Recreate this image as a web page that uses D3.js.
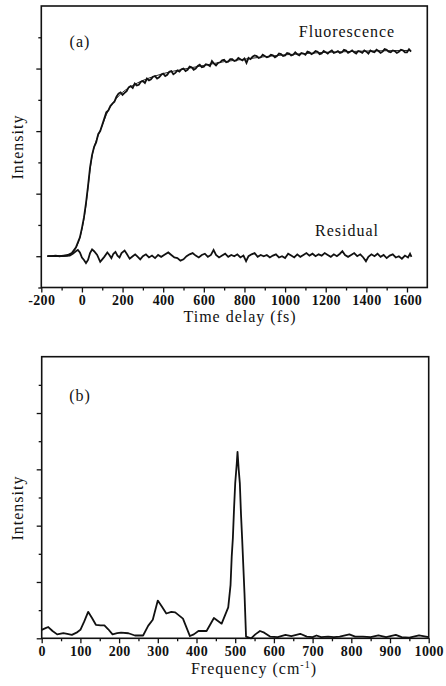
<!DOCTYPE html>
<html>

<head>
    <meta charset="utf-8">
    <title>Fluorescence and frequency spectrum</title>
    <script src="https://cdnjs.cloudflare.com/ajax/libs/d3/7.6.1/d3.min.js"></script>
</head>

<body>
    <style>
        html,
        body {
            margin: 0;
            padding: 0;
            background-color: #ffffff;
        }

        svg text {
            font-family: 'Liberation Serif', 'DejaVu Serif', serif;
            fill: #111;
        }

        .tick text {
            font-size: 14px;
            font-weight: bold;
            letter-spacing: 0.3px;
        }

        .axis-title {
            font-size: 16px;
            letter-spacing: 1px;
        }

        .note {
            font-size: 16px;
            letter-spacing: 1px;
        }
    </style>
    <div id="chart"></div>

    <script>

        // panel (a): fluorescence trace, [time fs, intensity]
        const fluorData = [
            [-170, 0.00], [-150, 0.00], [-130, 0.01], [-110, 0.00], [-90, 0.01], [-70, 0.02],
            [-50, 0.05], [-30, 0.14], [-10, 0.30], [0, 0.45], [10, 0.62], [20, 0.85],
            [30, 1.12], [40, 1.42], [50, 1.62], [60, 1.75], [70, 1.82], [80, 1.95],
            [90, 2.00], [100, 2.10], [110, 2.20], [120, 2.30], [130, 2.33], [140, 2.40],
            [150, 2.44], [160, 2.47], [170, 2.55], [180, 2.60], [190, 2.62], [200, 2.58],
            [210, 2.61], [220, 2.64], [230, 2.70], [240, 2.72], [250, 2.69], [260, 2.76],
            [270, 2.73], [280, 2.74], [290, 2.79], [300, 2.80], [310, 2.77], [320, 2.84],
            [330, 2.81], [340, 2.83], [350, 2.87], [360, 2.88], [370, 2.84], [380, 2.86],
            [390, 2.90], [400, 2.92], [410, 2.88], [420, 2.90], [430, 2.95], [440, 2.96],
            [450, 2.91], [460, 2.93], [470, 2.97], [480, 2.95], [490, 2.99], [500, 3.00],
            [510, 2.96], [520, 2.98], [530, 3.03], [540, 3.02], [550, 2.98], [560, 3.00],
            [570, 3.04], [580, 3.06], [590, 3.02], [600, 3.03], [610, 3.07], [620, 3.06],
            [630, 3.04], [640, 3.12], [650, 3.08], [660, 3.05], [670, 3.09], [680, 3.10],
            [690, 3.13], [700, 3.14], [710, 3.10], [720, 3.11], [730, 3.15], [740, 3.15],
            [750, 3.12], [760, 3.13], [770, 3.17], [780, 3.15], [790, 3.13], [800, 3.16],
            [810, 3.09], [820, 3.17], [830, 3.15], [840, 3.19], [850, 3.21], [860, 3.20],
            [870, 3.17], [880, 3.18], [890, 3.22], [900, 3.20], [910, 3.18], [920, 3.19],
            [930, 3.22], [940, 3.21], [950, 3.18], [960, 3.20], [970, 3.24], [980, 3.23],
            [990, 3.20], [1000, 3.21], [1010, 3.25], [1020, 3.24], [1030, 3.21], [1040, 3.22],
            [1050, 3.26], [1060, 3.23], [1070, 3.21], [1080, 3.25], [1090, 3.24], [1100, 3.22],
            [1110, 3.27], [1120, 3.26], [1130, 3.23], [1140, 3.25], [1150, 3.28], [1160, 3.27],
            [1170, 3.23], [1180, 3.24], [1190, 3.28], [1200, 3.26], [1210, 3.24], [1220, 3.27],
            [1230, 3.29], [1240, 3.25], [1250, 3.26], [1260, 3.28], [1270, 3.25], [1280, 3.26],
            [1290, 3.30], [1300, 3.29], [1310, 3.25], [1320, 3.27], [1330, 3.29], [1340, 3.26],
            [1350, 3.24], [1360, 3.28], [1370, 3.27], [1380, 3.25], [1390, 3.29], [1400, 3.27],
            [1410, 3.24], [1420, 3.29], [1430, 3.27], [1440, 3.26], [1450, 3.30], [1460, 3.28],
            [1470, 3.25], [1480, 3.27], [1490, 3.31], [1500, 3.30], [1510, 3.27], [1520, 3.26],
            [1530, 3.29], [1540, 3.28], [1550, 3.25], [1560, 3.27], [1570, 3.30], [1580, 3.29],
            [1590, 3.26], [1600, 3.26], [1610, 3.31], [1620, 3.27]
        ];

        // panel (a): fitted curve
        const fitData = [
            [-170, 0.00], [-80, 0.00], [-60, 0.02], [-40, 0.08], [-20, 0.20], [0, 0.43],
            [10, 0.60], [20, 0.82], [30, 1.10], [40, 1.38], [50, 1.60], [60, 1.74],
            [80, 1.93], [100, 2.09], [120, 2.26], [140, 2.39], [160, 2.48], [180, 2.56],
            [200, 2.62], [250, 2.73], [300, 2.81], [350, 2.87], [400, 2.92], [500, 2.99],
            [600, 3.05], [700, 3.11], [800, 3.15], [900, 3.19], [1000, 3.22], [1100, 3.24],
            [1200, 3.26], [1300, 3.27], [1400, 3.28], [1500, 3.285], [1620, 3.29]
        ];

        // panel (a): residual, [time fs, intensity]
        const residualData = [
            [-170, 0], [-130, 0], [-100, 0], [-80, 0.005], [-60, 0.01], [-45, 0.04],
            [-30, 0.08], [-20, 0.10], [-10, 0.06], [0, -0.02], [10, -0.06], [20, -0.11],
            [30, -0.06], [40, 0.05], [50, 0.11], [60, 0.08], [75, 0.02], [90, -0.09],
            [100, -0.05], [110, -0.01], [125, 0.06], [135, 0.02], [145, -0.03], [155, 0.04],
            [165, 0.07], [175, 0.01], [185, -0.02], [195, 0.05], [210, 0.09], [222, 0.03],
            [235, -0.04], [250, 0.00], [262, 0.03], [275, -0.01], [287, -0.05], [300, 0.00],
            [315, 0.03], [330, -0.02], [345, 0.01], [360, -0.03], [375, 0.02], [390, -0.01],
            [410, 0.03], [425, 0.06], [440, 0.02], [455, -0.02], [470, -0.03], [485, -0.07],
            [500, -0.05], [515, 0.00], [530, 0.03], [545, 0.05], [560, 0.01], [575, -0.02],
            [590, 0.02], [605, 0.04], [620, -0.01], [635, 0.02], [648, 0.10], [660, 0.02],
            [675, -0.02], [690, 0.01], [705, 0.04], [720, -0.01], [735, 0.02], [750, 0.00],
            [765, 0.03], [780, -0.02], [795, 0.01], [808, -0.08], [820, 0.00], [835, 0.03],
            [850, 0.05], [865, -0.01], [880, 0.02], [895, 0.00], [910, 0.02], [925, -0.02],
            [940, 0.01], [955, 0.03], [970, -0.02], [985, 0.00], [1000, -0.03], [1015, 0.04],
            [1030, 0.01], [1045, -0.02], [1060, 0.03], [1075, -0.01], [1090, 0.02], [1105, 0.05],
            [1120, 0.01], [1135, 0.04], [1150, 0.00], [1165, 0.03], [1180, 0.01], [1195, 0.05],
            [1210, 0.02], [1225, -0.01], [1240, 0.03], [1255, 0.00], [1270, 0.04], [1282, 0.08],
            [1295, 0.02], [1310, -0.01], [1325, 0.02], [1340, 0.05], [1355, 0.00], [1370, 0.03],
            [1385, -0.02], [1398, -0.08], [1410, -0.01], [1425, 0.03], [1440, 0.00], [1455, 0.04],
            [1470, -0.01], [1485, 0.02], [1500, -0.03], [1515, 0.01], [1530, 0.03], [1545, -0.02],
            [1560, 0.00], [1575, -0.04], [1590, 0.01], [1605, -0.02], [1615, 0.04], [1622, -0.01]
        ];

        // panel (b): spectrum, [frequency cm-1, intensity]
        const spectrumData = [
            [0, 0.15], [10, 0.18], [17, 0.20], [28, 0.13], [40, 0.07], [56, 0.09],
            [66, 0.08], [78, 0.06], [90, 0.10], [100, 0.15], [110, 0.30], [120, 0.47],
            [130, 0.36], [140, 0.24], [152, 0.23], [162, 0.23], [172, 0.16], [183, 0.07],
            [195, 0.09], [205, 0.10], [224, 0.09], [241, 0.05], [262, 0.05], [275, 0.22],
            [287, 0.33], [300, 0.67], [310, 0.57], [322, 0.44], [335, 0.47], [345, 0.46],
            [365, 0.35], [383, 0.04], [393, 0.07], [405, 0.13], [426, 0.13], [445, 0.36],
            [465, 0.26], [482, 0.55], [488, 0.95], [491, 1.45], [494, 1.78], [497, 2.30],
            [500, 2.75], [504, 3.10], [506, 3.31], [509, 3.00], [512, 2.75], [515, 2.20],
            [518, 1.76], [524, 0.80], [528, 0.03], [541, 0.00], [552, 0.07], [564, 0.13],
            [575, 0.10], [590, 0.03], [610, 0.02], [630, 0.06], [645, 0.04], [668, 0.08],
            [685, 0.03], [700, 0.02], [710, 0.05], [722, 0.02], [740, 0.03], [755, 0.02],
            [770, 0.03], [795, 0.07], [810, 0.03], [830, 0.03], [850, 0.02], [870, 0.05],
            [890, 0.02], [915, 0.06], [930, 0.02], [950, 0.01], [975, 0.05], [1000, 0.02]
        ];

        const timeTicks = [-200, 0, 200, 400, 600, 800, 1000, 1200, 1400, 1600];
        const freqTicks = [0, 100, 200, 300, 400, 500, 600, 700, 800, 900, 1000];

        const width = 446;
        const height = 686;

        const svg = d3.select("#chart")
            .append("svg")
            .attr("width", width)
            .attr("height", height);

        svg.append("rect")
            .attr("width", width)
            .attr("height", height)
            .attr("fill", "#ffffff");

        function drawPanel(opts) {
            const { box, xDomain, yDomain, xTicks, xMinor, yMajor, yMinor } = opts;

            const x = d3.scaleLinear().domain(xDomain).range([box.left, box.right]);
            const y = d3.scaleLinear().domain(yDomain).range([box.bottom, box.top]);

            // minor ticks first, majors on top
            svg.append("g")
                .attr("transform", `translate(0,${box.bottom})`)
                .call(d3.axisBottom(x).tickValues(xMinor).tickSize(3).tickSizeOuter(0).tickFormat(""))
                .call(g => g.select(".domain").remove());

            svg.append("g")
                .attr("transform", `translate(0,${box.bottom})`)
                .call(d3.axisBottom(x).tickValues(xTicks).tickSize(5).tickSizeOuter(0).tickPadding(3)
                    .tickFormat(d => String(d)))
                .call(g => g.select(".domain").remove());

            svg.append("g")
                .attr("transform", `translate(${box.left},0)`)
                .call(d3.axisLeft(y).tickValues(yMinor).tickSize(3).tickSizeOuter(0).tickFormat(""))
                .call(g => g.select(".domain").remove());

            svg.append("g")
                .attr("transform", `translate(${box.left},0)`)
                .call(d3.axisLeft(y).tickValues(yMajor).tickSize(5).tickSizeOuter(0).tickFormat(""))
                .call(g => g.select(".domain").remove());

            svg.selectAll(".tick line")
                .attr("stroke", "#111")
                .attr("stroke-width", 1.3);

            svg.append("rect")
                .attr("x", box.left)
                .attr("y", box.top)
                .attr("width", box.right - box.left)
                .attr("height", box.bottom - box.top)
                .attr("fill", "none")
                .attr("stroke", "#111")
                .attr("stroke-width", 1.6);

            return { x, y };
        }

        // ---- panel (a)
        const boxA = { left: 41.3, right: 427.3, top: 6, bottom: 287.5 };
        const a = drawPanel({
            box: boxA,
            xDomain: [-200, 1700],
            yDomain: [-0.5, 4],
            xTicks: timeTicks,
            xMinor: d3.range(-100, 1700, 200),
            yMajor: [0, 1, 2, 3],
            yMinor: [-0.5, 0.5, 1.5, 2.5, 3.5]
        });

        const lineA = d3.line()
            .x(d => a.x(d[0]))
            .y(d => a.y(d[1]));

        svg.append("path")
            .datum(fitData)
            .attr("fill", "none")
            .attr("stroke", "#222")
            .attr("stroke-width", 1)
            .attr("d", lineA.curve(d3.curveMonotoneX));

        svg.append("path")
            .datum(fluorData)
            .attr("fill", "none")
            .attr("stroke", "#111")
            .attr("stroke-width", 1.8)
            .attr("d", lineA.curve(d3.curveLinear));

        svg.append("path")
            .datum(residualData)
            .attr("fill", "none")
            .attr("stroke", "#111")
            .attr("stroke-width", 1.8)
            .attr("d", lineA);

        svg.append("text")
            .attr("class", "note")
            .attr("x", 80)
            .attr("y", 47)
            .attr("text-anchor", "middle")
            .text("(a)");

        svg.append("text")
            .attr("class", "note")
            .attr("x", 347)
            .attr("y", 37)
            .attr("text-anchor", "middle")
            .text("Fluorescence");

        svg.append("text")
            .attr("class", "note")
            .attr("x", 347)
            .attr("y", 236)
            .attr("text-anchor", "middle")
            .text("Residual");

        svg.append("text")
            .attr("class", "axis-title")
            .attr("x", 240)
            .attr("y", 322)
            .attr("text-anchor", "middle")
            .text("Time delay (fs)");

        svg.append("text")
            .attr("class", "axis-title")
            .attr("transform", "translate(23,147) rotate(-90)")
            .attr("text-anchor", "middle")
            .text("Intensity");

        // ---- panel (b)
        const boxB = { left: 41.7, right: 428.7, top: 356.7, bottom: 638.3 };
        const b = drawPanel({
            box: boxB,
            xDomain: [0, 1000],
            yDomain: [0, 5],
            xTicks: freqTicks,
            xMinor: d3.range(50, 1000, 100),
            yMajor: [0, 1, 2, 3, 4],
            yMinor: [0.5, 1.5, 2.5, 3.5, 4.5]
        });

        svg.append("path")
            .datum(spectrumData)
            .attr("fill", "none")
            .attr("stroke", "#111")
            .attr("stroke-width", 1.8)
            .attr("stroke-linejoin", "round")
            .attr("d", d3.line().x(d => b.x(d[0])).y(d => b.y(d[1])));

        svg.append("text")
            .attr("class", "note")
            .attr("x", 80)
            .attr("y", 401)
            .attr("text-anchor", "middle")
            .text("(b)");

        const freqLabel = svg.append("text")
            .attr("class", "axis-title")
            .attr("x", 254)
            .attr("y", 674)
            .attr("text-anchor", "middle");
        freqLabel.append("tspan").text("Frequency (cm");
        freqLabel.append("tspan").attr("dy", -6).attr("font-size", 10).text("-1");
        freqLabel.append("tspan").attr("dy", 6).text(")");

        svg.append("text")
            .attr("class", "axis-title")
            .attr("transform", "translate(23,508) rotate(-90)")
            .attr("text-anchor", "middle")
            .text("Intensity");

    </script>
</body>

</html>
